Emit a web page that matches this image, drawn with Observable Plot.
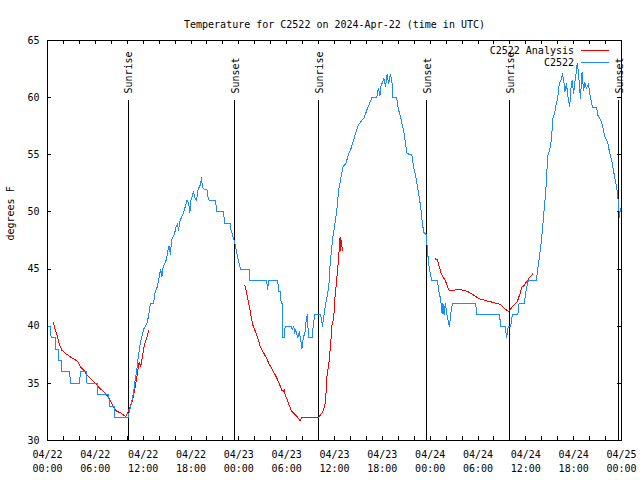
<!DOCTYPE html>
<html>
<head>
<meta charset="utf-8">
<script src="https://cdn.jsdelivr.net/npm/d3@7"></script>
<script src="https://cdn.jsdelivr.net/npm/@observablehq/plot@0.6"></script>
<style>
  html, body { margin: 0; padding: 0; background: #fff; }
</style>
</head>
<body>
<div id="chart"></div>
<script>
// ---- data (hours since 2024-04-22 00:00 UTC, degrees F) ----
const title = "Temperature for C2522 on 2024-Apr-22 (time in UTC)";
const yLabel = "degrees F";
const xTicks = [0, 6, 12, 18, 24, 30, 36, 42, 48, 54, 60, 66, 72];
const xTickLabels = ["04/22\n00:00", "04/22\n06:00", "04/22\n12:00", "04/22\n18:00",
  "04/23\n00:00", "04/23\n06:00", "04/23\n12:00", "04/23\n18:00",
  "04/24\n00:00", "04/24\n06:00", "04/24\n12:00", "04/24\n18:00", "04/25\n00:00"];
const xMinorTicks = [0, 2, 4, 6, 8, 10, 12, 14, 16, 18, 20, 22, 24, 26, 28, 30, 32, 34, 36,
  38, 40, 42, 44, 46, 48, 50, 52, 54, 56, 58, 60, 62, 64, 66, 68, 70, 72];
const yTicks = [30, 35, 40, 45, 50, 55, 60, 65];
const sunriseHours = [10.1, 34.05, 57.98];
const sunsetHours = [23.5, 47.6, 71.65];
const seriesNames = ["C2522 Analysis", "C2522"];
const seriesColors = ["#ff0000", "#1a8cff"];

const observed = [
  [0,40],[0.4,40],[0.45,39],[0.95,39],[1.0,38],[1.35,38],[1.4,37],[1.75,37],[1.8,36],[2.8,36],[2.85,35],
  [4.05,35],[4.1,36],[4.9,36],[4.95,35],[6.25,35],[6.3,34],[7.7,34],[7.75,33],[8.35,33],[8.4,32],[10.1,32],
  [10.3,32.6],[10.5,33.2],[10.8,34.2],[11.0,35.3],[11.2,36.2],[11.4,37.4],[11.6,38.3],[11.8,39],[12.1,39.8],
  [12.3,40],[12.5,40.3],[12.7,41],[12.9,42],[13.3,42],[13.5,43],[13.8,43.5],[14.0,44.3],[14.2,45],[14.35,44.3],
  [14.5,45.2],[14.9,45.8],[15.1,46.6],[15.25,47],[15.4,46.3],[15.6,47.6],[15.9,48],[16.1,48.6],[16.3,49],
  [16.45,48.4],[16.6,49.2],[17.0,49.8],[17.3,50.5],[17.5,51],[17.7,50.8],[17.85,49.9],[18.0,51],[18.3,51.8],
  [18.5,51.2],[18.7,51],[18.9,52],[19.2,52.4],[19.3,53],[19.45,52.2],[19.6,52],[20.0,52],[20.1,51.4],[20.3,51],
  [21.1,51],[21.2,50],[22.1,50],[22.2,49],[22.9,49],[23.0,48.5],[23.2,48],[23.45,47.4],[23.6,46.9],[23.8,46.2],
  [24.0,45.6],[24.2,45],[25.3,45],[25.4,44],[27.5,44],[27.6,43.2],[27.75,44],[28.9,44],[28.95,43],[29.25,43],
  [29.3,42],[29.45,42],[29.5,39],[29.75,39],[29.8,40],[30.6,40],[30.7,39.7],[30.9,40],[31.0,39.4],[31.1,39.7],
  [31.4,39],[31.6,39.5],[31.8,38.6],[31.9,38],[32.1,39],[32.3,39.5],[32.45,40.5],[32.6,41],[32.7,39.5],[32.8,39],
  [33.2,39],[33.3,39.8],[33.5,41],[34.25,41],[34.4,40.5],[34.5,40],[34.6,40.6],[34.9,42],[35.1,42.7],[35.3,43.6],
  [35.4,45],[35.6,46.5],[35.8,47.8],[36.1,49.2],[36.3,50.2],[36.5,51.8],[36.8,53],[37.1,54],[37.4,54.2],
  [37.8,55.1],[38.1,55.6],[38.4,56.3],[38.7,57],[39.0,57.6],[39.2,57.8],[39.4,58],[39.7,58.2],[39.9,58.6],
  [40.1,59],[40.4,59.5],[40.7,60],[41.3,60],[41.5,60.8],[41.7,60.2],[41.8,61],[42.0,61.3],[42.2,61.7],[42.4,61],
  [42.6,62],[42.8,61.2],[43.0,62],[43.2,61.5],[43.3,60],[43.8,60],[44.0,59],[44.3,58.3],[44.5,57.6],[44.7,57],
  [44.9,56],[45.1,55.1],[45.7,55],[45.9,54],[46.2,53.1],[46.4,52.2],[46.6,51.4],[46.8,50.5],[47.0,49.1],
  [47.2,48.2],[47.5,48],[47.7,46.3],[47.9,45],[48.2,44],[48.9,44],[49.1,43],[49.3,42.4],[49.5,41.1],[49.6,42],
  [49.75,41],[49.9,42],[50.1,41],[50.4,40],[50.5,40.5],[50.6,41.2],[50.8,42],[53.7,42],[53.85,41],[56.7,41],
  [56.85,40],[57.4,40],[57.6,39],[57.7,39.5],[57.8,40],[58.1,40],[58.3,41],[59.0,41],[59.15,42],[59.8,42],
  [60.0,43],[60.3,44],[61.3,44],[61.5,45],[61.7,46],[61.9,47.2],[62.1,48.6],[62.3,50.2],[62.5,51.8],[62.75,54.9],
  [63.0,55.5],[63.2,56.3],[63.4,58.2],[63.6,58.6],[63.8,59.4],[64.0,60],[64.2,61.3],[64.4,61.5],[64.6,62.1],
  [64.75,61.5],[64.9,60.5],[65.1,61.2],[65.3,60],[65.5,59.2],[65.65,60.8],[65.8,61.5],[66.0,60.4],[66.15,61.4],
  [66.3,62.1],[66.45,63],[66.6,62.2],[66.85,59.9],[67.05,62.2],[67.25,60.6],[67.4,61.3],[67.6,60.8],[67.85,61.2],
  [68.05,60.2],[68.25,59.5],[68.4,59.1],[68.9,59.1],[69.0,58.5],[69.4,58],[69.6,57.6],[69.9,56.6],[70.3,56],
  [70.5,55.2],[70.8,54.4],[71.0,53.6],[71.2,52.8],[71.4,52.2],[71.6,50.9],[71.75,49.5],[71.85,50.3],[72,50]
];

const analysisDay1 = [
  [0.75,40.3],[1.0,39.6],[1.2,39.2],[1.5,38.4],[1.8,37.9],[2.3,37.6],[2.9,37.3],[3.4,37.1],[3.8,36.9],
  [4.2,36.4],[4.6,36.1],[5.0,35.7],[5.4,35.4],[6.0,35.0],[6.5,34.6],[7.0,34.3],[7.3,34.1],[7.6,33.8],[7.9,33.5],
  [8.2,33.0],[8.6,32.6],[9.2,32.4],[9.8,32.1],[10.1,32.5],[10.4,33.0],[10.7,33.6],[10.95,34.5],[11.2,35.5],
  [11.4,36.5],[11.5,36.8],[11.7,36.5],[11.9,37.3],[12.1,38.2],[12.4,38.9],[12.7,39.6]
];
const analysisDay2 = [
  [24.75,43.6],[24.95,43.0],[25.15,42.3],[25.35,41.6],[25.6,40.6],[25.8,40.0],[26.1,39.5],[26.4,38.9],
  [26.7,38.2],[27.0,37.8],[27.4,37.3],[27.8,36.7],[28.2,36.2],[28.6,35.7],[29.0,35.1],[29.4,34.4],[29.6,34.3],
  [29.7,34.5],[29.8,34.0],[30.0,33.7],[30.3,33.1],[30.6,32.6],[31.0,32.3],[31.3,32.1],[31.7,31.7],[31.9,32.0],
  [32.5,32.0],[34.0,32.0],[34.3,32.3],[34.6,32.6],[34.9,33.4],[35.0,35.4],[35.3,36.8],[35.5,38.3],[35.7,40.2],
  [35.9,40.6],[36.0,42.1],[36.2,43.5],[36.4,45.0],[36.6,46.8],[36.7,47.8],[36.8,46.6],[36.85,47.5],[37.0,46.6]
];
const analysisDay3 = [
  [48.6,45.9],[48.9,45.8],[49.1,45.3],[49.4,44.6],[49.6,44.3],[49.9,44.0],[50.1,43.6],[50.4,43.1],[50.7,43.1],
  [51.3,43.2],[51.8,43.2],[52.4,43.1],[52.8,43.0],[53.3,42.8],[53.7,42.6],[54.2,42.4],[54.7,42.3],[55.2,42.2],
  [55.8,42.1],[56.3,42.0],[56.8,41.9],[57.1,41.7],[57.4,41.5],[57.8,41.3],[58.0,41.4],[58.3,41.7],[58.6,41.9],
  [58.9,42.1],[59.1,42.5],[59.3,42.9],[59.5,43.4],[59.7,43.5],[60.0,43.8],[60.4,44.2],[60.9,44.6]
];

// ---- build ----
const analysis = [analysisDay1, analysisDay2, analysisDay3]
  .flatMap((seg, k) => seg.map(([t, v]) => ({t, v, k})));
const obsRows = observed.map(([t, v]) => ({t, v}));
const sunEvents = [
  ...sunriseHours.map(t => ({t, label: "Sunrise"})),
  ...sunsetHours.map(t => ({t, label: "Sunset"}))
];

const W = 640, H = 480;
const M = {left: 47, right: 19, top: 40, bottom: 40};
const frameW = W - M.left - M.right, frameH = H - M.top - M.bottom;
const tickLen = 4;
const crisp = {shapeRendering: "crispEdges"};

function legendMark(index, scales, values, dims) {
  const g = d3.create("svg:g")
    .attr("font-family", "DejaVu Sans Mono")
    .attr("font-size", 10);
  const xr = dims.width - dims.marginRight;
  seriesNames.forEach((name, i) => {
    const y = dims.marginTop + 10 + i * 12.3;
    g.append("text").attr("x", xr - 47).attr("y", y).attr("dy", "0.35em")
      .attr("text-anchor", "end").attr("fill", "black").text(name);
    g.append("line").attr("x1", xr - 40).attr("x2", xr - 12)
      .attr("y1", Math.round(y) + 0.5).attr("y2", Math.round(y) + 0.5)
      .attr("stroke", seriesColors[i]).attr("stroke-width", 1);
  });
  return g.node();
}

const chart = Plot.plot({
  width: W, height: H,
  marginLeft: M.left, marginRight: M.right, marginTop: M.top, marginBottom: M.bottom,
  style: {fontFamily: "DejaVu Sans Mono", fontSize: "10px", background: "white", color: "black"},
  x: {domain: [0, 72], axis: null},
  y: {domain: [30, 65], axis: null},
  marks: [
    // ticks (inward, mirrored)
    Plot.ruleX(xMinorTicks, {x: d => d, insetTop: frameH - tickLen, stroke: "black", ...crisp}),
    Plot.ruleX(xMinorTicks, {x: d => d, insetBottom: frameH - tickLen, stroke: "black", ...crisp}),
    Plot.ruleY(yTicks, {y: d => d, insetRight: frameW - tickLen, stroke: "black", ...crisp}),
    Plot.ruleY(yTicks, {y: d => d, insetLeft: frameW - tickLen, stroke: "black", ...crisp}),
    // tick labels
    Plot.text(xTicks, {x: d => d, frameAnchor: "bottom", text: (d, i) => xTickLabels[i],
      lineAnchor: "top", dy: 8, lineHeight: 1.38, fill: "black"}),
    Plot.text(yTicks, {y: d => d, frameAnchor: "left", text: d => String(d),
      textAnchor: "end", dx: -8, fill: "black"}),
    // axis title and chart title
    Plot.text([yLabel], {frameAnchor: "left", text: d => d, rotate: -90, dx: -37, fill: "black"}),
    Plot.text([title], {frameAnchor: "top", text: d => d, dy: -20, fill: "black"}),
    // sunrise / sunset markers
    Plot.ruleX(sunEvents, {x: "t", y1: 30, y2: 59.75, stroke: "black", strokeWidth: 1, ...crisp}),
    Plot.text(sunEvents, {x: "t", y: 59.75, text: "label", rotate: -90, textAnchor: "start",
      dy: -7, dx: 1, fill: "black"}),
    // data
    Plot.line(analysis, {x: "t", y: "v", z: "k", stroke: seriesColors[0], strokeWidth: 1, ...crisp}),
    Plot.line(obsRows, {x: "t", y: "v", stroke: seriesColors[1], strokeWidth: 1, ...crisp}),
    Plot.frame({stroke: "black", ...crisp}),
    legendMark
  ]
});
document.getElementById("chart").appendChild(chart);
</script>
</body>
</html>
